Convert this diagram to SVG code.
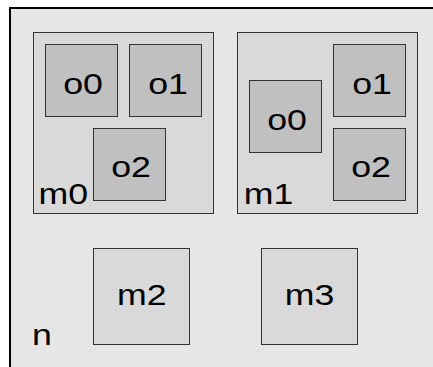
<svg xmlns="http://www.w3.org/2000/svg" width="433" height="367" viewBox="0 0 433 367">
  <style>
    .n { fill: #e6e6e6; stroke: #000; stroke-width: 2; }
    .m { fill: #d9d9d9; stroke: #333; stroke-width: 1; }
    .o { fill: #c0c0c0; stroke: #333; stroke-width: 1; }
    text { font-family: "Liberation Sans", Arial, sans-serif; font-size: 30px; fill: #000; }
    .c { text-anchor: middle; }
  </style>
  <rect width="433" height="367" fill="#fff"/>
  <!-- labels use a slightly widened face: scale(1.19 1) -->
  <g id="n">
    <rect class="n" x="10" y="8" width="440" height="380"/>
    <text transform="translate(32 345) scale(1.19 1)">n</text>
  </g>
  <g id="m0">
    <rect class="m" x="33.5" y="32.5" width="180" height="181"/>
    <text transform="translate(38.4 203.5) scale(1.19 1)">m0</text>
  </g>
  <g id="m0-o0">
    <rect class="o" x="45.5" y="44.5" width="72" height="72"/>
    <text class="c" transform="translate(83 93.5) scale(1.19 1)">o0</text>
  </g>
  <g id="m0-o1">
    <rect class="o" x="129.5" y="44.5" width="72" height="72"/>
    <text class="c" transform="translate(168 93.5) scale(1.19 1)">o1</text>
  </g>
  <g id="m0-o2">
    <rect class="o" x="93.5" y="128.5" width="72" height="72"/>
    <text class="c" transform="translate(131 177) scale(1.19 1)">o2</text>
  </g>
  <g id="m1">
    <rect class="m" x="237.5" y="32.5" width="180" height="181"/>
    <text transform="translate(243.7 204) scale(1.19 1)">m1</text>
  </g>
  <g id="m1-o0">
    <rect class="o" x="249.5" y="80.5" width="72" height="72"/>
    <text class="c" transform="translate(287 129.5) scale(1.19 1)">o0</text>
  </g>
  <g id="m1-o1">
    <rect class="o" x="333.5" y="44.5" width="72" height="72"/>
    <text class="c" transform="translate(372 93.5) scale(1.19 1)">o1</text>
  </g>
  <g id="m1-o2">
    <rect class="o" x="333.5" y="128.5" width="72" height="72"/>
    <text class="c" transform="translate(371 177) scale(1.19 1)">o2</text>
  </g>
  <g id="m2">
    <rect class="m" x="93.5" y="248.5" width="96" height="96"/>
    <text class="c" transform="translate(141.8 305) scale(1.19 1)">m2</text>
  </g>
  <g id="m3">
    <rect class="m" x="261.5" y="248.5" width="96" height="96"/>
    <text class="c" transform="translate(309.5 305) scale(1.19 1)">m3</text>
  </g>
  <g id="connectors"/>
</svg>
